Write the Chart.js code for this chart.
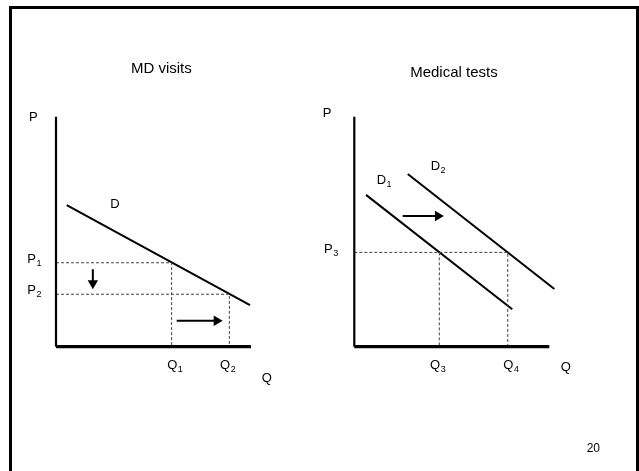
<!DOCTYPE html>
<html>
<head>
<meta charset="utf-8">
<script src="https://cdn.jsdelivr.net/npm/chart.js@4.4.1/dist/chart.umd.min.js"></script>
<style>
  body { margin: 0; background: #fff; overflow: hidden; }
  #frame { position: absolute; left: 9px; top: 6px; width: 624px; height: 520px; border: 3px solid #000; }
  canvas { position: absolute; left: 0; top: 0; }
</style>
</head>
<body>
<div id="frame"></div>
<canvas id="mdVisits" width="639" height="471"></canvas>
<canvas id="medTests" width="639" height="471"></canvas>
<script>
// MD visits: one demand curve, price falls P1 -> P2, quantity rises Q1 -> Q2
const mdDemandQ = [5.5, 99.5];
const mdDemandP = [61.6, 18.1];
const mdPriceTicks = ['P1', 'P2'];
const mdPrices = [36.5, 22.8];
const mdQtyTicks = ['Q1', 'Q2'];
const mdQtys = [59.3, 88.9];
const mdDownArrowQ = [18.9, 18.9];
const mdDownArrowP = [33.7, 27.6];
const mdRightArrowQ = [61.9, 82.4];
const mdRightArrowP = [11.3, 11.3];

// Medical tests: demand shifts D1 -> D2 at the same price P3
const d1Q = [6, 81];
const d1P = [66, 16.3];
const d2Q = [27.4, 102.6];
const d2P = [75.1, 25.1];
const testPriceTicks = ['P3'];
const testPrices = [41.0];
const testQtyTicks = ['Q3', 'Q4'];
const testQtys = [43.6, 78.7];
const shiftArrowQ = [24.8, 42.9];
const shiftArrowP = [56.8, 56.8];

const FONT = '"Liberation Sans", Arial, sans-serif';

function pts(xs, ys) {
  return xs.map((v, i) => ({x: v, y: ys[i]}));
}

function solid(xs, ys, width) {
  return {data: pts(xs, ys), showLine: true, borderColor: '#000', borderWidth: width,
          pointRadius: 0, clip: false, borderCapStyle: 'butt'};
}

function dashed(xs, ys) {
  return {data: pts(xs, ys), showLine: true, borderColor: '#444', borderWidth: 1,
          borderDash: [3, 2], pointRadius: 0, clip: false};
}

function arrow(xs, ys, angle) {
  return {data: pts(xs, ys), showLine: true, borderColor: '#000', borderWidth: 2,
          pointStyle: 'triangle', pointRadius: [0, 6], rotation: angle,
          pointBackgroundColor: '#000', pointBorderWidth: 0, clip: false};
}

// text drawn at data positions, with a small subscript after the first letter
function textPlugin(items) {
  return {
    id: 'slideText',
    afterDatasetsDraw(chart) {
      const {ctx, scales: {x, y}} = chart;
      ctx.save();
      ctx.fillStyle = '#000';
      ctx.textBaseline = 'alphabetic';
      ctx.textAlign = 'left';
      items.forEach(t => {
        const size = t.size || 13;
        const main = t.sub === false ? t.text : t.text.charAt(0);
        const sub = t.sub === false ? '' : t.text.slice(1);
        ctx.font = size + 'px ' + FONT;
        const wMain = ctx.measureText(main).width;
        ctx.font = '9px ' + FONT;
        const wSub = ctx.measureText(sub).width;
        let left = x.getPixelForValue(t.x) + (t.dx || 0);
        const base = y.getPixelForValue(t.y) + (t.dy || 0);
        if (t.center) left -= (wMain + wSub) / 2;
        ctx.font = size + 'px ' + FONT;
        ctx.fillText(main, left, base);
        if (sub) {
          ctx.font = '9px ' + FONT;
          ctx.fillText(sub, left + wMain + 0.5, base + 3);
        }
      });
      ctx.restore();
    }
  };
}

function panel(id, padding, datasets, items) {
  return new Chart(document.getElementById(id), {
    type: 'scatter',
    data: {datasets: datasets},
    options: {
      responsive: false,
      animation: false,
      events: [],
      layout: {padding: padding},
      scales: {
        x: {type: 'linear', display: false, min: 0, max: 100},
        y: {type: 'linear', display: false, min: 0, max: 100}
      },
      plugins: {legend: {display: false}, tooltip: {enabled: false}}
    },
    plugins: [textPlugin(items)]
  });
}

panel('mdVisits', {left: 56, right: 388, top: 116.7, bottom: 124.3}, [
  solid([0, 0], [0, 100], 2.2),
  solid([0, 100], [0, 0], 3.2),
  dashed([0, mdQtys[0], mdQtys[0]], [mdPrices[0], mdPrices[0], 0]),
  dashed([0, mdQtys[1], mdQtys[1]], [mdPrices[1], mdPrices[1], 0]),
  solid(mdDemandQ, mdDemandP, 2),
  arrow(mdDownArrowQ, mdDownArrowP, 180),
  arrow(mdRightArrowQ, mdRightArrowP, 90)
], [
  {text: 'MD visits', sub: false, x: 54, y: 100, dy: -44, size: 15, center: true},
  {text: 'P', sub: false, x: 0, y: 100, dx: -27, dy: 4},
  {text: 'D', sub: false, x: mdDemandQ[0], y: mdDemandP[0], dx: 43.6, dy: 2.7},
  {text: mdPriceTicks[0], x: 0, y: mdPrices[0], dx: -28.7, dy: 0.6},
  {text: mdPriceTicks[1], x: 0, y: mdPrices[1], dx: -28.7, dy: 0},
  {text: mdQtyTicks[0], x: mdQtys[0], y: 0, dx: -4.4, dy: 22.5},
  {text: mdQtyTicks[1], x: mdQtys[1], y: 0, dx: -9.3, dy: 22.5},
  {text: 'Q', sub: false, x: 100, y: 0, dx: 10.7, dy: 35}
]);

panel('medTests', {left: 354.3, right: 89.7, top: 116.7, bottom: 124.3}, [
  solid([0, 0], [0, 100], 2.2),
  solid([0, 100], [0, 0], 3.2),
  dashed([0, testQtys[1], testQtys[1]], [testPrices[0], testPrices[0], 0]),
  dashed([testQtys[0], testQtys[0]], [testPrices[0], 0]),
  solid(d1Q, d1P, 2),
  solid(d2Q, d2P, 2),
  arrow(shiftArrowQ, shiftArrowP, 90)
], [
  {text: 'Medical tests', sub: false, x: 51.1, y: 100, dy: -40, size: 15, center: true},
  {text: 'P', sub: false, x: 0, y: 100, dx: -31.6, dy: 0},
  {text: 'D1', x: d1Q[0], y: d1P[0], dx: 10.7, dy: -10.7},
  {text: 'D2', x: d2Q[0], y: d2P[0], dx: 23, dy: -4},
  {text: testPriceTicks[0], x: 0, y: testPrices[0], dx: -30.3, dy: 0.4},
  {text: testQtyTicks[0], x: testQtys[0], y: 0, dx: -9.3, dy: 22.5},
  {text: testQtyTicks[1], x: testQtys[1], y: 0, dx: -4.4, dy: 22.5},
  {text: 'Q', sub: false, x: 100, y: 0, dx: 11.4, dy: 24.3},
  {text: '20', sub: false, x: 100, y: 0, dx: 44, dy: 105, size: 12, center: true}
]);
</script>
</body>
</html>
